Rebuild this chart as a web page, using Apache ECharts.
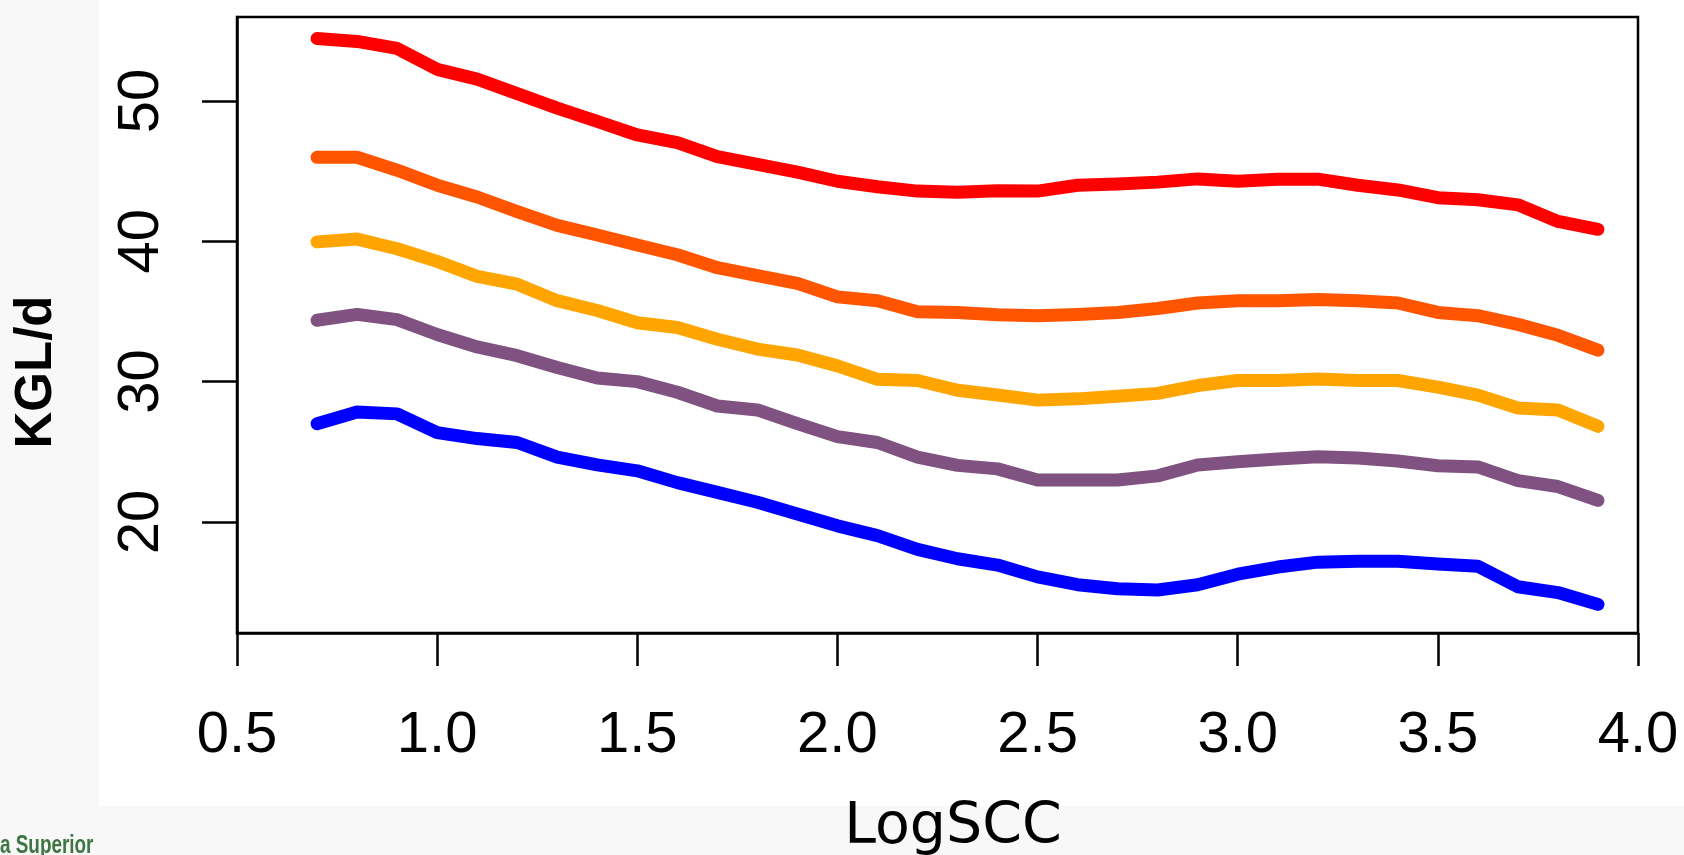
<!doctype html>
<html>
<head>
<meta charset="UTF-8">
<title>KGL/d vs LogSCC</title>
<script src="https://cdn.jsdelivr.net/npm/echarts@6/dist/echarts.min.js"></script>
<style>
  html, body { margin: 0; padding: 0; background: #f8f8f8; }
  #main { width: 1684px; height: 855px; }
</style>
</head>
<body>
<div id="main"></div>
<script>
// x positions (LogSCC)
var logScc = [0.7, 0.8, 0.9, 1.0, 1.1, 1.2, 1.3, 1.4, 1.5, 1.6, 1.7, 1.8, 1.9, 2.0, 2.1, 2.2, 2.3,
              2.4, 2.5, 2.6, 2.7, 2.8, 2.9, 3.0, 3.1, 3.2, 3.3, 3.4, 3.5, 3.6, 3.7, 3.8, 3.9];

// KGL/d curves, top to bottom
var redLine = [54.45, 54.25, 53.75, 52.26, 51.56, 50.53, 49.49, 48.55, 47.58, 47.03, 46.04, 45.49, 44.93, 44.28, 43.89, 43.58, 43.5,
               43.6, 43.58, 44.0, 44.08, 44.22, 44.45, 44.28, 44.42, 44.43, 44.0, 43.66, 43.11, 42.96, 42.6, 41.42, 40.86];
var orangeLine = [45.99, 45.99, 45.07, 44.0, 43.16, 42.12, 41.14, 40.45, 39.74, 39.04, 38.12, 37.56, 37.0, 36.04, 35.77, 34.98, 34.93,
                  34.76, 34.7, 34.79, 34.93, 35.21, 35.6, 35.77, 35.77, 35.85, 35.77, 35.6, 34.93, 34.7, 34.08, 33.3, 32.24];
var yellowLine = [39.96, 40.16, 39.47, 38.57, 37.5, 36.94, 35.77, 35.07, 34.2, 33.86, 33.02, 32.32, 31.9, 31.12, 30.16, 30.08, 29.38,
                  29.04, 28.68, 28.77, 28.96, 29.16, 29.72, 30.08, 30.08, 30.19, 30.08, 30.08, 29.61, 29.04, 28.12, 27.98, 26.81];
var purpleLine = [34.37, 34.79, 34.42, 33.36, 32.47, 31.85, 31.0, 30.26, 30.0, 29.24, 28.26, 27.98, 27.0, 26.08, 25.66, 24.62, 24.03,
                  23.78, 22.99, 22.99, 22.99, 23.28, 24.06, 24.28, 24.48, 24.65, 24.56, 24.34, 24.0, 23.92, 22.94, 22.52, 21.54];
var blueLine = [27.0, 27.84, 27.7, 26.36, 25.94, 25.66, 24.62, 24.06, 23.64, 22.8, 22.1, 21.4, 20.56, 19.72, 19.02, 18.04, 17.37,
                16.92, 16.08, 15.52, 15.24, 15.15, 15.52, 16.27, 16.78, 17.13, 17.2, 17.2, 17.0, 16.84, 15.38, 14.96, 14.12];

var yTicks = [20, 30, 40, 50];

var colors = ['#ff0000', '#ff5500', '#ffa500', '#7f5281', '#0000ff'];
var lines = [redLine, orangeLine, yellowLine, purpleLine, blueLine];

function pairs(ys) {
  return logScc.map(function (x, i) { return [x, ys[i]]; });
}

var chart = echarts.init(document.getElementById('main'));

var labelFont = '"Liberation Sans Narrow", "Liberation Sans", Arial, sans-serif';

var option = {
  backgroundColor: '#f8f8f8',
  animation: false,
  grid: {
    left: 237,
    right: 46,
    top: 17,
    bottom: 222,
    show: true,
    borderColor: '#000',
    borderWidth: 2.5,
    backgroundColor: 'transparent'
  },
  graphic: [
    { type: 'rect', z: -10, shape: { x: 99, y: 0, width: 1585, height: 806 }, style: { fill: '#ffffff' } },
    { type: 'text', x: 37, y: 372, rotation: Math.PI / 2,
      style: { text: 'KGL/d', font: 'bold 51px "Liberation Sans", Arial, sans-serif', fill: '#000',
               textAlign: 'center', textVerticalAlign: 'middle' } },
    { type: 'text', x: 953, y: 828,
      style: { text: 'LogSCC', font: '57px "DejaVu Sans", sans-serif', fill: '#000',
               textAlign: 'center', textVerticalAlign: 'middle' } },
    { type: 'text', x: 0, y: 846, scaleX: 0.9, scaleY: 1.2,
      style: { text: 'a Superior', font: 'bold 21px "Liberation Sans Narrow", "Liberation Sans", sans-serif', fill: '#3f7543',
               textAlign: 'left', textVerticalAlign: 'middle' } }
  ],
  xAxis: {
    type: 'value',
    min: 0.5,
    max: 4,
    interval: 0.5,
    splitLine: { show: false },
    axisLine: { show: true, lineStyle: { color: '#000', width: 2.5 } },
    axisTick: { show: true, inside: false, length: 33, lineStyle: { color: '#000', width: 2.5 } },
    axisLabel: {
      margin: 74,
      color: '#000',
      fontSize: 58,
      fontFamily: labelFont,
      formatter: function (v) { return v.toFixed(1); }
    }
  },
  yAxis: {
    type: 'value',
    min: 12.08,
    max: 55.99,
    splitLine: { show: false },
    axisLine: { show: true, lineStyle: { color: '#000', width: 2.5 } },
    axisTick: { show: true, inside: false, length: 35, customValues: yTicks, lineStyle: { color: '#000', width: 2.5 } },
    axisLabel: {
      customValues: yTicks,
      rotate: 90,
      margin: 66,
      color: '#000',
      fontSize: 58,
      fontFamily: labelFont
    }
  },
  series: lines.map(function (ys, i) {
    return {
      type: 'line',
      data: pairs(ys),
      showSymbol: false,
      smooth: false,
      lineStyle: { color: colors[i], width: 13, cap: 'round', join: 'round' },
      itemStyle: { color: colors[i] }
    };
  })
};

chart.setOption(option);
</script>
</body>
</html>
